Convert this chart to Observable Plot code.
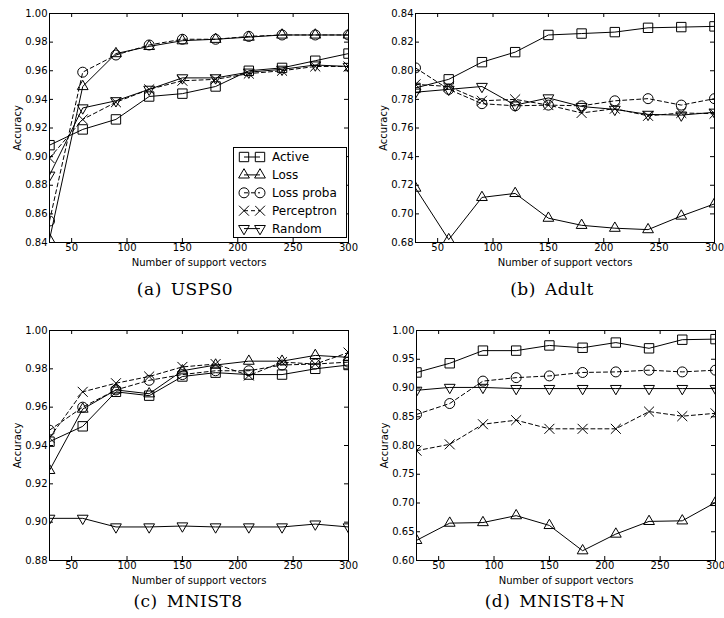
<!DOCTYPE html>
<html><head><meta charset="utf-8">
<script src="https://cdn.jsdelivr.net/npm/d3@7"></script>
<script src="https://cdn.jsdelivr.net/npm/@observablehq/plot@0.6"></script>
<style>
html,body{margin:0;padding:0;background:#fff;overflow:hidden;}
#root{position:relative;width:724px;height:618px;background:#fff;}
.panel{position:absolute;}
.cap{position:absolute;font-family:"DejaVu Serif";font-size:17px;letter-spacing:0.5px;white-space:nowrap;transform:translateX(-50%);line-height:1;color:#000;}
.cap span{margin-right:9px;}
</style></head><body><div id="root"></div>
<script>
// ---------- data ----------
const xValues = [30, 60, 90, 120, 150, 180, 210, 240, 270, 300];
const xTicks = [50, 100, 150, 200, 250, 300];
const seriesNames = ["Active", "Loss", "Loss proba", "Perceptron", "Random"];

const usps0Active     = [0.908, 0.919, 0.926, 0.942, 0.944, 0.949, 0.960, 0.962, 0.967, 0.972];
const usps0Loss       = [0.842, 0.949, 0.972, 0.977, 0.981, 0.982, 0.9835, 0.985, 0.985, 0.985];
const usps0LossProba  = [0.855, 0.959, 0.971, 0.978, 0.982, 0.982, 0.984, 0.985, 0.985, 0.985];
const usps0Perceptron = [0.899, 0.926, 0.938, 0.947, 0.953, 0.954, 0.958, 0.960, 0.963, 0.963];
const usps0Random     = [0.887, 0.934, 0.939, 0.947, 0.955, 0.955, 0.959, 0.961, 0.964, 0.963];

const adultActive     = [0.788, 0.794, 0.806, 0.813, 0.825, 0.826, 0.827, 0.830, 0.8305, 0.831];
const adultLoss       = [0.718, 0.682, 0.7115, 0.7143, 0.697, 0.692, 0.690, 0.689, 0.6985, 0.707];
const adultLossProba  = [0.802, 0.787, 0.777, 0.7755, 0.776, 0.7755, 0.779, 0.7805, 0.776, 0.7805];
const adultPerceptron = [0.7905, 0.789, 0.779, 0.780, 0.776, 0.7705, 0.7735, 0.7685, 0.7705, 0.770];
const adultRandom     = [0.785, 0.787, 0.789, 0.776, 0.781, 0.775, 0.773, 0.7695, 0.769, 0.771];

const mnist8Active     = [0.942, 0.950, 0.968, 0.966, 0.976, 0.978, 0.977, 0.977, 0.980, 0.982];
const mnist8Loss       = [0.927, 0.959, 0.969, 0.967, 0.979, 0.982, 0.984, 0.984, 0.987, 0.986];
const mnist8LossProba  = [0.948, 0.960, 0.969, 0.974, 0.977, 0.979, 0.979, 0.982, 0.9825, 0.9835];
const mnist8Perceptron = [0.944, 0.968, 0.9725, 0.976, 0.981, 0.9825, 0.9765, 0.9835, 0.9825, 0.9885];
const mnist8Random     = [0.902, 0.902, 0.8975, 0.8975, 0.898, 0.8975, 0.8975, 0.8975, 0.899, 0.8975];

const mnist8nActive     = [0.927, 0.943, 0.965, 0.965, 0.974, 0.970, 0.979, 0.969, 0.984, 0.985];
const mnist8nLoss       = [0.635, 0.665, 0.666, 0.678, 0.661, 0.617, 0.646, 0.668, 0.669, 0.701];
const mnist8nLossProba  = [0.854, 0.873, 0.912, 0.918, 0.921, 0.927, 0.928, 0.931, 0.928, 0.931];
const mnist8nPerceptron = [0.791, 0.802, 0.837, 0.844, 0.829, 0.829, 0.829, 0.859, 0.851, 0.856];
const mnist8nRandom     = [0.896, 0.901, 0.901, 0.899, 0.899, 0.899, 0.899, 0.899, 0.899, 0.899];

const usps0YTicks   = [0.84, 0.86, 0.88, 0.90, 0.92, 0.94, 0.96, 0.98, 1.00];
const adultYTicks   = [0.68, 0.70, 0.72, 0.74, 0.76, 0.78, 0.80, 0.82, 0.84];
const mnist8YTicks  = [0.88, 0.90, 0.92, 0.94, 0.96, 0.98, 1.00];
const mnist8nYTicks = [0.60, 0.65, 0.70, 0.75, 0.80, 0.85, 0.90, 0.95, 1.00];

const captions = ["(a)|USPS0", "(b)|Adult", "(c)|MNIST8", "(d)|MNIST8+N"];

// ---------- styles ----------
const styleOf = {
  "Active":     {symbol: "square",   r: 5.3, dash: null, rotate: 0},
  "Loss":       {symbol: "triangle", r: 4.0, dash: null, rotate: 0},
  "Loss proba": {symbol: "circle",   r: 5.0, dash: "4,3", rotate: 0},
  "Perceptron": {symbol: "times",    r: 4.6, dash: "4,3", rotate: 0},
  "Random":     {symbol: "triangle", r: 4.0, dash: null, rotate: 180}
};

const panels = [
  {left: 0,   top: 0,   mr: 14, h: 275, mb: 33, domain: [0.84, 1.00], yTicks: usps0YTicks,
   series: [usps0Active, usps0Loss, usps0LossProba, usps0Perceptron, usps0Random], cap: captions[0], capX: 185, capY: 281, legend: true},
  {left: 366, top: 0,   mr: 10, h: 275, mb: 33, domain: [0.68, 0.84], yTicks: adultYTicks,
   series: [adultActive, adultLoss, adultLossProba, adultPerceptron, adultRandom], cap: captions[1], capX: 552, capY: 281},
  {left: 0,   top: 317, mr: 14, h: 276, mb: 33, domain: [0.88, 1.00], yTicks: mnist8YTicks,
   series: [mnist8Active, mnist8Loss, mnist8LossProba, mnist8Perceptron, mnist8Random], cap: captions[2], capX: 188, capY: 593},
  {left: 367, top: 317, mr: 9,  h: 276, mb: 33, domain: [0.60, 1.00], yTicks: mnist8nYTicks,
   series: [mnist8nActive, mnist8nLoss, mnist8nLossProba, mnist8nPerceptron, mnist8nRandom], cap: captions[3], capX: 555, capY: 593}
];

const root = document.getElementById("root");
const ML = 49, MT = 13, INNER_W = 299;

panels.forEach(p => {
  const innerH = p.h - MT - p.mb;
  const marks = [];
  p.series.forEach((vals, si) => {
    const name = seriesNames[si];
    const st = styleOf[name];
    const rows = xValues.map((x, i) => ({x, y: vals[i], series: name}));
    marks.push(Plot.line(rows, {x: "x", y: "y", stroke: "#000", strokeWidth: 1,
      strokeDasharray: st.dash, clip: true}));
    marks.push(Plot.dot(rows, {x: "x", y: "y", symbol: st.symbol, r: st.r, stroke: "#000",
      fill: "none", strokeWidth: 1, rotate: st.rotate, clip: true}));
  });
  // inward ticks on all four sides
  marks.push(Plot.tickX(xTicks, {x: d => d, insetTop: innerH - 4, stroke: "#000"}));
  marks.push(Plot.tickX(xTicks, {x: d => d, insetBottom: innerH - 4, stroke: "#000"}));
  marks.push(Plot.tickY(p.yTicks, {y: d => d, insetRight: INNER_W - 4, stroke: "#000"}));
  marks.push(Plot.tickY(p.yTicks, {y: d => d, insetLeft: INNER_W - 4, stroke: "#000"}));
  marks.push(Plot.frame({stroke: "#000", strokeWidth: 1}));
  marks.push(Plot.axisX(xTicks, {tickSize: 0, tickPadding: 1, fontSize: 10,
    label: "Number of support vectors", labelAnchor: "center", labelOffset: 23, labelArrow: "none"}));
  marks.push(Plot.axisY(p.yTicks, {tickSize: 0, tickPadding: 2, fontSize: 10, tickFormat: d3.format(".2f"),
    label: "Accuracy", labelAnchor: "center", labelOffset: 36, labelArrow: "none"}));

  const chart = Plot.plot({
    width: ML + INNER_W + p.mr,
    height: p.h,
    marginLeft: ML, marginRight: p.mr, marginTop: MT, marginBottom: p.mb,
    x: {domain: [30, 300]},
    y: {domain: p.domain},
    style: {fontFamily: "DejaVu Sans", fontSize: "10px", color: "#000", background: "#fff", overflow: "visible"},
    marks
  });
  const div = document.createElement("div");
  div.className = "panel";
  div.style.left = p.left + "px";
  div.style.top = p.top + "px";
  div.appendChild(chart);
  root.appendChild(div);

  const cap = document.createElement("div");
  cap.className = "cap";
  const [a, b] = p.cap.split("|");
  cap.innerHTML = `<span>${a}</span>${b}`;
  cap.style.left = p.capX + "px";
  cap.style.top = p.capY + "px";
  root.appendChild(cap);

  if (p.legend) {
    const lw = 114, lh = 91;
    const lg = d3.create("svg").attr("width", lw + 2).attr("height", lh + 2)
      .style("position", "absolute").style("left", "232px").style("top", "146px");
    lg.append("rect").attr("x", 1.5).attr("y", 1.5).attr("width", lw - 1).attr("height", lh - 1)
      .attr("fill", "#fff").attr("stroke", "#000");
    const d3sym = {square: d3.symbolSquare, triangle: d3.symbolTriangle, circle: d3.symbolCircle, times: d3.symbolTimes};
    seriesNames.forEach((name, i) => {
      const st = styleOf[name];
      const cy = 11 + i * 17.9;
      const g = lg.append("g");
      g.append("line").attr("x1", 12).attr("x2", 28).attr("y1", cy).attr("y2", cy)
        .attr("stroke", "#000").attr("stroke-dasharray", st.dash);
      const path = d3.symbol(d3sym[st.symbol], Math.PI * st.r * st.r)();
      [12, 28].forEach(cx => {
        g.append("path").attr("d", path).attr("fill", "none").attr("stroke", "#000")
          .attr("transform", `translate(${cx},${cy}) rotate(${st.rotate})`);
      });
      g.append("text").attr("x", 40).attr("y", cy).attr("dy", "0.36em")
        .attr("font-family", "DejaVu Sans").attr("font-size", 12).text(name);
    });
    root.appendChild(lg.node());
  }
});
</script></body></html>
